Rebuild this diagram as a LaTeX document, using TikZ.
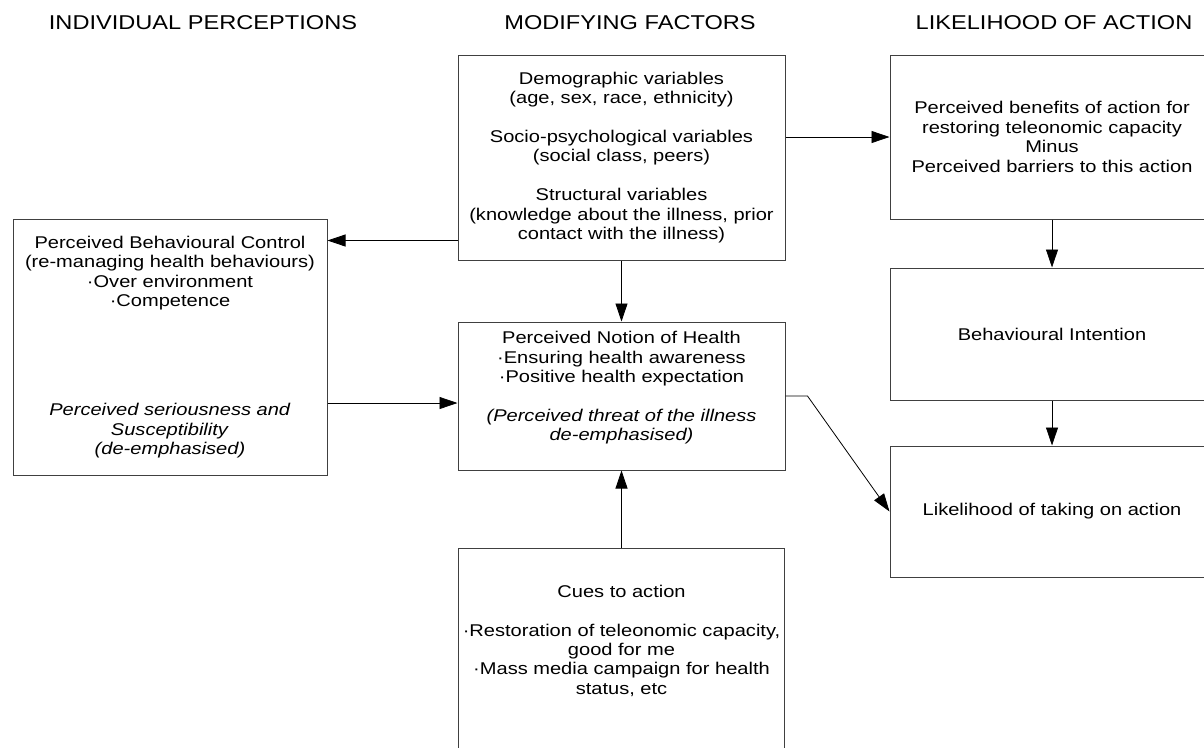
\documentclass[tikz,border=0pt]{standalone}
\usepackage{fontspec}
\setmainfont[FakeStretch=1.18]{Liberation Sans}
\usetikzlibrary{arrows.meta}

\begin{document}
\begin{tikzpicture}[x=1pt, y=-1pt, >={Triangle[length=18pt, width=12pt]},
  box/.style={draw=black!75, line width=1pt, inner sep=1pt, align=center,
    font=\fontsize{17}{19.4}\selectfont},
  heading/.style={font=\fontsize{20}{22}\selectfont},
  arr/.style={->, line width=0.8pt}]
  \useasboundingbox (0,0) rectangle (1204,747);
  \clip (0,0) rectangle (1204,747);
  % column headings
  \node[heading] (h-ind) at (203,23) {INDIVIDUAL PERCEPTIONS};
  \node[heading] (h-mod) at (630,23) {MODIFYING FACTORS};
  \node[heading] (h-like) at (1054,23) {LIKELIHOOD OF ACTION};
  % boxes
  \node[box, minimum width=327, minimum height=205] (modf) at (621.5,157.5)
    {Demographic variables\\(age, sex, race, ethnicity)\\[19.4pt]
     Socio-psychological variables\\(social class, peers)\\[19.4pt]
     Structural variables\\(knowledge about the illness, prior\\contact with the illness)};
  \node[box, minimum width=324, minimum height=164] (benef) at (1052,137)
    {Perceived benefits of action for\\restoring teleonomic capacity\\Minus\\Perceived barriers to this action};
  \node[box, minimum width=324, minimum height=132] (intent) at (1052,334) {Behavioural Intention};
  \node[box, minimum width=324, minimum height=131] (likely) at (1052,511.5) {Likelihood of taking on action};
  \node[box, minimum width=314, minimum height=256] (control) at (170,347)
    {Perceived Behavioural Control\\(re-managing health behaviours)\\·Over environment\\·Competence\\[90pt]
     \textit{Perceived seriousness and}\\\textit{Susceptibility}\\\textit{(de-emphasised)}};
  \node[box, minimum width=327, minimum height=148] (notion) at (621.5,396)
    {Perceived Notion of Health\\·Ensuring health awareness\\·Positive health expectation\\[19.4pt]
     \textit{(Perceived threat of the illness}\\\textit{de-emphasised)}\\\mbox{}};
  \node[box, minimum width=326, minimum height=222] (cues) at (621.5,659)
    {Cues to action\\[19.4pt]·Restoration of teleonomic capacity,\\good for me\\
     ·Mass media campaign for health\\status, etc\\\mbox{}\\\mbox{}};
  % connectors
  \coordinate (n1) at ([yshift=-7pt]notion.west);
  \draw[arr] (modf.east |- benef.west) -- (benef.west);
  \draw[arr] ([yshift=20pt]modf.south west) coordinate (m1) -- (m1 -| control.east);
  \draw[arr] (modf) -- (notion);
  \draw[arr] (control.east |- n1) -- (n1);
  \draw[arr] (cues) -- (notion);
  \draw[arr] (benef) -- (intent);
  \draw[arr] (intent) -- (likely);
  \draw[arr] (notion.east) -- ++(22,0) -- (likely.west);
\end{tikzpicture}
\end{document}
